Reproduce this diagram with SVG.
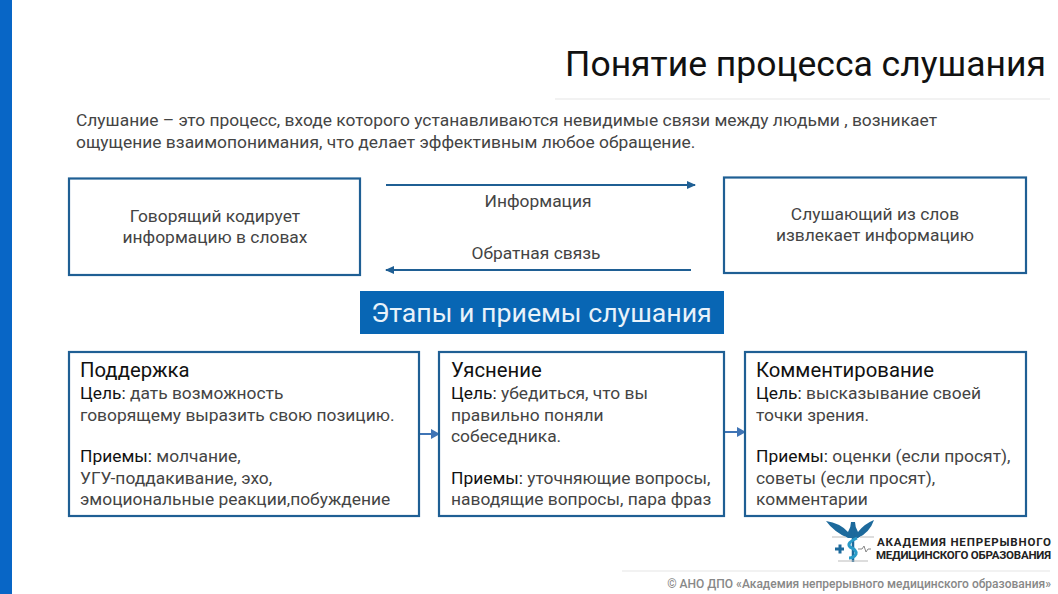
<svg xmlns="http://www.w3.org/2000/svg" width="1058" height="594" viewBox="0 0 1058 594">
<style>
text{font-family:Roboto,"Liberation Sans",sans-serif;fill:#444;font-size:17.4px}
.c{text-anchor:middle}
.h{fill:#111;font-size:20.3px}
.d{fill:#111}
.box{fill:#fff;stroke:#1f5f94;stroke-width:2.2}
.rule{stroke:#eee;stroke-width:1.5}
.ln{stroke:#1f5f94;stroke-width:2;fill:none}
.sm{stroke:#3f74b5;stroke-width:2;fill:none}
</style>
<defs>
<marker id="a" markerWidth="9" markerHeight="8" refX="8" refY="4" orient="auto" markerUnits="userSpaceOnUse"><path d="M0 0L9 4L0 8Z" fill="#1f5f94"/></marker>
<marker id="b" markerWidth="9" markerHeight="10" refX="8" refY="5" orient="auto" markerUnits="userSpaceOnUse"><path d="M0 0L9 5L0 10Z" fill="#3f74b5"/></marker>
</defs>
<rect width="1058" height="594" fill="#fff"/>
<rect x="0" y="0" width="12" height="594" fill="#0866c6"/>
<text x="1046" y="76" text-anchor="end" style="font-size:35.5px;fill:#111">Понятие процесса слушания</text>
<line class="rule" x1="555" y1="99" x2="1050" y2="99"/>
<text x="76" y="126">Слушание – это процесс, входе которого устанавливаются невидимые связи между людьми , возникает</text>
<text x="76" y="148">ощущение взаимопонимания, что делает эффективным любое обращение.</text>
<g id="connectors">
<line class="ln" x1="386" y1="185" x2="695" y2="185" marker-end="url(#a)"/>
<line class="ln" x1="691" y1="270" x2="386" y2="270" marker-end="url(#a)"/>
<line class="sm" x1="419" y1="434" x2="439" y2="434" marker-end="url(#b)"/>
<line class="sm" x1="724" y1="432" x2="745" y2="432" marker-end="url(#b)"/>
</g>
<text class="c" x="538" y="207">Информация</text>
<text class="c" x="536" y="259">Обратная связь</text>
<g id="speaker">
<rect class="box" x="69" y="178.500" width="291" height="96.500"/>
<text class="c" x="215" y="222">Говорящий кодирует</text>
<text class="c" x="215" y="243">информацию в словах</text>
</g>
<g id="listener">
<rect class="box" x="724" y="177.500" width="302" height="95.500"/>
<text class="c" x="875" y="220">Слушающий из слов</text>
<text class="c" x="875" y="241">извлекает информацию</text>
</g>
<g id="stages">
<rect x="360" y="291" width="364" height="43" fill="#0866b4"/>
<text class="c" x="541.500" y="322" style="fill:#e8f2fa;font-size:26.700px">Этапы и приемы слушания</text>
</g>
<g id="support">
<rect class="box" x="69" y="352" width="350" height="164"/>
<text class="h" x="80" y="377">Поддержка</text>
<text x="80" y="399"><tspan class="d">Цель:</tspan> дать возможность</text>
<text x="80" y="421">говорящему выразить свою позицию.</text>
<text x="80" y="462"><tspan class="d">Приемы:</tspan> молчание,</text>
<text x="80" y="484">УГУ-поддакивание, эхо,</text>
<text x="80" y="505">эмоциональные реакции,побуждение</text>
</g>
<g id="clarify">
<rect class="box" x="439" y="352" width="285" height="164"/>
<text class="h" x="451" y="377">Уяснение</text>
<text x="451" y="399"><tspan class="d">Цель:</tspan> убедиться, что вы</text>
<text x="451" y="421">правильно поняли</text>
<text x="451" y="442">собеседника.</text>
<text x="451" y="484"><tspan class="d">Приемы:</tspan> уточняющие вопросы,</text>
<text x="451" y="505">наводящие вопросы, пара фраз</text>
</g>
<g id="comment">
<rect class="box" x="745" y="352" width="281" height="164"/>
<text class="h" x="756" y="377">Комментирование</text>
<text x="756" y="399"><tspan class="d">Цель:</tspan> высказывание своей</text>
<text x="756" y="421">точки зрения.</text>
<text x="756" y="462"><tspan class="d">Приемы:</tspan> оценки (если просят),</text>
<text x="756" y="484">советы (если просят),</text>
<text x="756" y="505">комментарии</text>
</g>
<g id="logo">
<path d="M826 521Q840 523 848 532Q851 527 851 522L855 522Q855 527 858 532Q864 524 874 520Q870 532 858 538L848 538Q834 532 826 521Z" fill="#1d6a9c"/>
<path d="M853 522V562" stroke="#1d6a9c" stroke-width="2.500" fill="none"/>
<path d="M857 538Q846 543 850 547Q857 550 856 554Q854 558 849 558" stroke="#2a9bc8" stroke-width="3" fill="none"/>
<path d="M835 549H844M840 544.500V553.500" stroke="#1d6a9c" stroke-width="3" fill="none"/>
<path d="M858 549H862L864 546L866 552L868 549H871" stroke="#888" stroke-width="1" fill="none"/>
<path d="M832 537H846M860 537H874M838 561H868" stroke="#bbb" stroke-width="1" fill="none"/>
<text x="877" y="546" style="font-size:11.500px;font-weight:700;fill:#222" textLength="174">АКАДЕМИЯ НЕПРЕРЫВНОГО</text>
<text x="876" y="559" style="font-size:11.500px;font-weight:700;fill:#222" textLength="175">МЕДИЦИНСКОГО ОБРАЗОВАНИЯ</text>
</g>
<line class="rule" x1="622" y1="571" x2="1050" y2="571"/>
<text x="1051" y="588" text-anchor="end" style="font-size:12px;font-weight:500;fill:#888">© АНО ДПО «Академия непрерывного медицинского образования»</text>
</svg>
